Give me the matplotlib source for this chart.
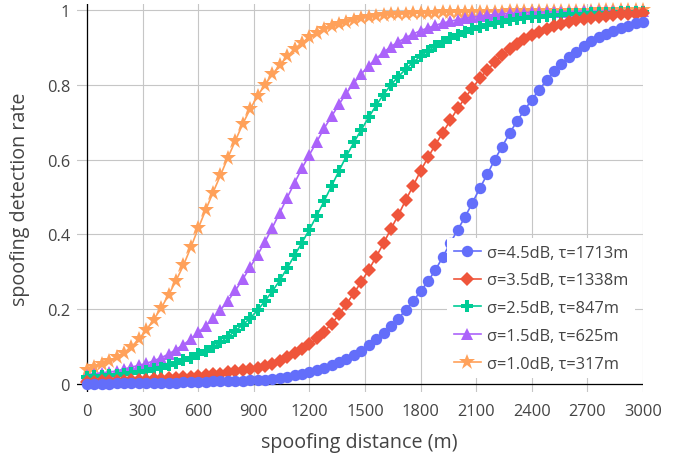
import numpy as np
import matplotlib
matplotlib.use("Agg")
import matplotlib.pyplot as plt

plt.rcParams['font.family'] = ['Open Sans', 'DejaVu Sans']

# spoofing distance in metres, one sample every 40 m
distance = np.arange(0, 3001, 40)

# detection rate for each (sigma, tau) setting
rate_45 = [0.001, 0.001, 0.001, 0.001, 0.002, 0.002, 0.002, 0.002, 0.003, 0.003,
           0.003, 0.004, 0.004, 0.005, 0.005, 0.006, 0.006, 0.007, 0.008, 0.008,
           0.008, 0.009, 0.010, 0.011, 0.012, 0.014, 0.017, 0.020, 0.024, 0.028,
           0.032, 0.037, 0.043, 0.050, 0.058, 0.067, 0.077, 0.089, 0.104, 0.120,
           0.137, 0.155, 0.175, 0.198, 0.222, 0.248, 0.275, 0.305, 0.340, 0.377,
           0.412, 0.447, 0.485, 0.524, 0.561, 0.600, 0.635, 0.670, 0.703, 0.732,
           0.760, 0.787, 0.812, 0.836, 0.856, 0.874, 0.889, 0.903, 0.916, 0.927,
           0.937, 0.945, 0.952, 0.958, 0.964, 0.968]
rate_35 = [0.006, 0.006, 0.007, 0.007, 0.008, 0.009, 0.010, 0.011, 0.012, 0.013,
           0.014, 0.015, 0.017, 0.018, 0.020, 0.022, 0.024, 0.026, 0.028, 0.031,
           0.034, 0.037, 0.040, 0.044, 0.048, 0.054, 0.062, 0.071, 0.082, 0.093,
           0.106, 0.122, 0.140, 0.161, 0.186, 0.214, 0.243, 0.273, 0.305, 0.340,
           0.376, 0.415, 0.452, 0.492, 0.530, 0.570, 0.606, 0.640, 0.672, 0.705,
           0.737, 0.765, 0.792, 0.817, 0.840, 0.860, 0.879, 0.895, 0.910, 0.922,
           0.933, 0.942, 0.950, 0.957, 0.963, 0.968, 0.972, 0.976, 0.979, 0.982,
           0.984, 0.986, 0.988, 0.989, 0.990, 0.991]
rate_25 = [0.020, 0.021, 0.022, 0.023, 0.025, 0.027, 0.030, 0.032, 0.035, 0.039,
           0.044, 0.050, 0.056, 0.063, 0.070, 0.079, 0.088, 0.099, 0.112, 0.126,
           0.142, 0.158, 0.176, 0.197, 0.222, 0.248, 0.277, 0.310, 0.344, 0.378,
           0.413, 0.450, 0.490, 0.530, 0.570, 0.610, 0.646, 0.680, 0.713, 0.745,
           0.774, 0.800, 0.822, 0.842, 0.860, 0.877, 0.891, 0.904, 0.915, 0.925,
           0.934, 0.942, 0.949, 0.955, 0.960, 0.965, 0.969, 0.972, 0.975, 0.978,
           0.980, 0.982, 0.984, 0.986, 0.987, 0.988, 0.989, 0.990, 0.991, 0.992,
           0.993, 0.993, 0.994, 0.994, 0.995, 0.995]
rate_15 = [0.025, 0.027, 0.030, 0.032, 0.035, 0.040, 0.045, 0.050, 0.055, 0.062,
           0.070, 0.080, 0.092, 0.105, 0.120, 0.138, 0.155, 0.176, 0.198, 0.222,
           0.250, 0.280, 0.312, 0.345, 0.380, 0.418, 0.458, 0.498, 0.538, 0.577,
           0.613, 0.648, 0.684, 0.716, 0.748, 0.778, 0.805, 0.829, 0.851, 0.870,
           0.887, 0.902, 0.915, 0.926, 0.936, 0.945, 0.952, 0.959, 0.965, 0.970,
           0.974, 0.978, 0.981, 0.984, 0.986, 0.988, 0.990, 0.991, 0.992, 0.993,
           0.994, 0.994, 0.995, 0.995, 0.996, 0.996, 0.996, 0.997, 0.997, 0.997,
           0.997, 0.998, 0.998, 0.998, 0.998, 0.998]
rate_10 = [0.037, 0.045, 0.053, 0.062, 0.072, 0.084, 0.100, 0.120, 0.145, 0.172,
           0.203, 0.238, 0.276, 0.317, 0.365, 0.416, 0.465, 0.512, 0.558, 0.605,
           0.650, 0.695, 0.735, 0.770, 0.800, 0.828, 0.853, 0.876, 0.896, 0.913,
           0.927, 0.938, 0.948, 0.956, 0.963, 0.969, 0.974, 0.978, 0.981, 0.984,
           0.986, 0.988, 0.989, 0.990, 0.991, 0.992, 0.993, 0.993, 0.994, 0.994,
           0.995, 0.995, 0.995, 0.996, 0.996, 0.996, 0.996, 0.997, 0.997, 0.997,
           0.997, 0.997, 0.998, 0.998, 0.998, 0.998, 0.998, 0.998, 0.998, 0.999,
           0.999, 0.999, 0.999, 0.999, 0.999, 0.999]

labels = ["σ=4.5dB, τ=1713m", "σ=3.5dB, τ=1338m", "σ=2.5dB, τ=847m",
          "σ=1.5dB, τ=625m", "σ=1.0dB, τ=317m"]
series = [rate_45, rate_35, rate_25, rate_15, rate_10]
colors = ["#636EFA", "#EF553B", "#00CC96", "#AB63FA", "#FFA15A"]
markers = ["o", "D", "P", "^", "*"]
msizes = [8.2, 7.0, 9.2, 8.4, 11.8]

fig = plt.figure(figsize=(6.86, 4.6), dpi=100)
ax = fig.add_axes([77 / 686, 1 - 393 / 460, 566 / 686, 388.5 / 460])

# zero lines and grid
ax.grid(color="#c6c6c6", lw=0.8)
ax.set_axisbelow(True)
ax.axhline(0, color="black", lw=0.9, zorder=1)
ax.axvline(0, color="black", lw=0.9, zorder=1)

# plot from last to first so the blue curve sits on top
handles = {}
for i in reversed(range(len(series))):
    h, = ax.plot(distance, series[i], color=colors[i], marker=markers[i],
                 ms=msizes[i], mew=0, lw=1.2, label=labels[i],
                 clip_on=False, zorder=3)
    handles[i] = h

ax.set_xlim(-54, 3000)
ax.set_ylim(-0.0214, 1.0174)
ax.set_xticks(range(0, 3001, 300))
ax.set_yticks([0, 0.2, 0.4, 0.6, 0.8, 1])
ax.set_yticklabels(["0", "0.2", "0.4", "0.6", "0.8", "1"])
ax.tick_params(length=0, labelsize=11.8, colors="#444444")
ax.tick_params(axis="x", pad=8)
ax.tick_params(axis="y", pad=5)
for s in ax.spines.values():
    s.set_visible(False)

fig.text(359 / 686, 1 - 443 / 460, "spoofing distance (m)", ha="center",
         va="center", fontsize=14.2, color="#444444")
fig.text(20 / 686, 1 - 199 / 460, "spoofing detection rate", ha="center",
         va="center", rotation=90, fontsize=14.2, color="#444444")

leg = ax.legend([handles[i] for i in range(5)], labels, loc="upper left",
                bbox_to_anchor=(447 / 686, 1 - 239 / 460),
                bbox_transform=fig.transFigure, fontsize=11.8,
                frameon=True, facecolor="white", edgecolor="none",
                framealpha=1, fancybox=False, handlelength=1.7,
                handletextpad=0.32, labelspacing=0.72, borderpad=0.4,
                borderaxespad=0)
for t in leg.get_texts():
    t.set_color("#444444")

fig.savefig("out.png", dpi=100)
